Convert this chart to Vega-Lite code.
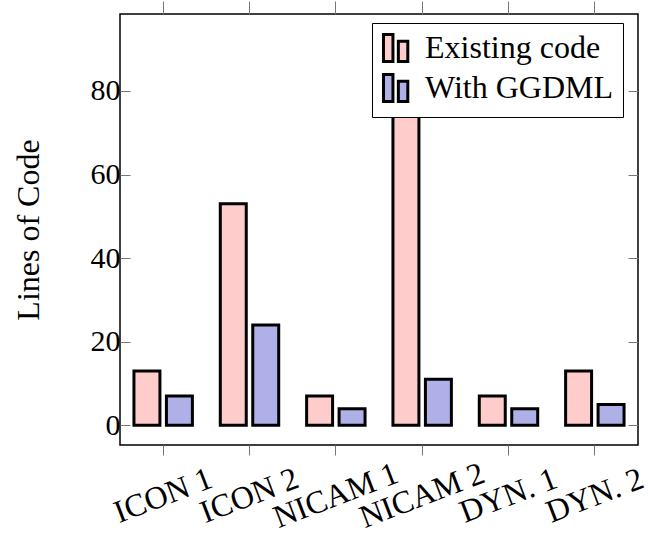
{
  "$schema": "https://vega.github.io/schema/vega-lite/v6.json",
  "width": 518,
  "height": 431,
  "autosize": {"type": "none"},
  "padding": {"left": 120, "top": 14, "right": 10, "bottom": 93},
  "config": {
    "view": {"stroke": "black", "strokeWidth": 1.5},
    "font": "Liberation Serif",
    "axis": {"grid": false, "labelFont": "Liberation Serif", "titleFont": "Liberation Serif", "labelColor": "black", "titleColor": "black", "tickColor": "#777", "tickWidth": 1}
  },
  "data": {
    "values": [
      {"app": "ICON 1", "version": "Existing code", "loc": 13},
      {"app": "ICON 1", "version": "With GGDML", "loc": 7},
      {"app": "ICON 2", "version": "Existing code", "loc": 53},
      {"app": "ICON 2", "version": "With GGDML", "loc": 24},
      {"app": "NICAM 1", "version": "Existing code", "loc": 7},
      {"app": "NICAM 1", "version": "With GGDML", "loc": 4},
      {"app": "NICAM 2", "version": "Existing code", "loc": 94},
      {"app": "NICAM 2", "version": "With GGDML", "loc": 11},
      {"app": "DYN. 1", "version": "Existing code", "loc": 7},
      {"app": "DYN. 1", "version": "With GGDML", "loc": 4},
      {"app": "DYN. 2", "version": "Existing code", "loc": 13},
      {"app": "DYN. 2", "version": "With GGDML", "loc": 5}
    ]
  },
  "layer": [
    {
      "mark": {"type": "bar", "stroke": "black", "strokeWidth": 3},
      "encoding": {
        "x": {
          "field": "app", "type": "nominal", "sort": null,
          "scale": {"paddingInner": 0.248, "paddingOuter": 0.124},
          "axis": {"orient": "bottom", "title": null, "domain": false, "ticks": true, "tickSize": 10, "labelAngle": -21, "labelAlign": "center", "labelBaseline": "middle", "labelPadding": 40, "labelFontSize": 32, "labelLimit": 0}
        },
        "xOffset": {
          "field": "version", "type": "nominal", "sort": ["Existing code", "With GGDML"],
          "scale": {"paddingInner": 0.2, "paddingOuter": 0.1}
        },
        "y": {
          "field": "loc", "type": "quantitative",
          "scale": {"domain": [-4.7, 98.4], "nice": false, "zero": false},
          "axis": {"orient": "left", "values": [0, 20, 40, 60, 80], "domain": false, "tickSize": -10, "labelPadding": 10, "labelFontSize": 30, "title": "Lines of Code", "titleFontSize": 32, "titleFontWeight": "normal", "titlePadding": 45}
        },
        "y2": {"datum": 0},
        "color": {
          "field": "version", "type": "nominal",
          "scale": {"domain": ["Existing code", "With GGDML"], "range": ["#ffcccc", "#b0b0e8"]},
          "legend": {
            "orient": "none", "legendX": 252, "legendY": 9, "title": null,
            "fillColor": "white", "strokeColor": "black", "padding": 9, "cornerRadius": 0,
            "labelFont": "Liberation Serif", "labelFontSize": 32, "labelColor": "black", "labelOffset": 12, "labelLimit": 0,
            "symbolType": "M-1,-1H-0.3V1H-1Z M0.1,-0.5H0.8V1H0.1Z", "symbolSize": 729,
            "symbolStrokeColor": "black", "symbolStrokeWidth": 3, "symbolOpacity": 1, "rowPadding": 0
          }
        }
      }
    },
    {
      "mark": {"type": "bar", "opacity": 0},
      "encoding": {
        "x": {
          "field": "app", "type": "nominal", "sort": null,
          "axis": {"orient": "top", "title": null, "domain": false, "labels": false, "tickSize": 13}
        },
        "xOffset": {"field": "version", "type": "nominal", "sort": ["Existing code", "With GGDML"]},
        "y": {
          "field": "loc", "type": "quantitative",
          "axis": {"orient": "right", "values": [0, 20, 40, 60, 80], "domain": false, "labels": false, "tickSize": -10, "title": null}
        },
        "y2": {"datum": 0}
      }
    }
  ],
  "resolve": {"axis": {"x": "independent", "y": "independent"}}
}
